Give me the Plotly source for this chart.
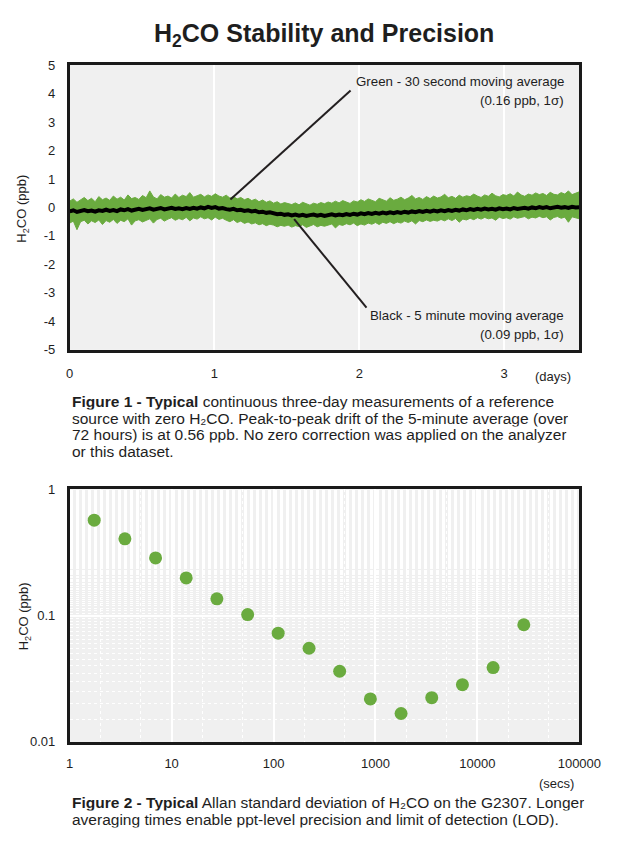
import numpy as np
import plotly.graph_objects as go

W, H = 633, 859

# ---------------- Data: Figure 1 (3-day zero measurement) ----------------
DAYS_SPAN = 3.52
black_5min = [
    -0.14, -0.10, -0.16, -0.12, -0.09, -0.13, -0.11, -0.15, -0.10, -0.12,
    -0.08, -0.12, -0.09, -0.13, -0.07, -0.10, -0.06, -0.11, -0.08, -0.05,
    -0.09, -0.06, -0.03, -0.08, -0.05, -0.02, -0.07, -0.04, -0.01, -0.05,
    -0.03, -0.06, -0.02, -0.05, -0.01, -0.04, 0.00, -0.03, 0.02, -0.02,
    0.01, -0.04, -0.02, -0.06, -0.08, -0.05, -0.10, -0.08, -0.12, -0.10,
    -0.14, -0.12, -0.17, -0.15, -0.19, -0.17, -0.21, -0.24, -0.22, -0.26,
    -0.24, -0.28, -0.25, -0.29, -0.26, -0.30, -0.27, -0.25, -0.29, -0.26,
    -0.30, -0.27, -0.24, -0.28, -0.25, -0.27, -0.23, -0.26, -0.22, -0.25,
    -0.21, -0.24, -0.20, -0.23, -0.19, -0.22, -0.18, -0.21, -0.17, -0.20,
    -0.16, -0.19, -0.15, -0.18, -0.14, -0.17, -0.13, -0.16, -0.12, -0.15,
    -0.11, -0.14, -0.10, -0.13, -0.09, -0.12, -0.08, -0.11, -0.07, -0.10,
    -0.06, -0.09, -0.05, -0.08, -0.04, -0.07, -0.05, -0.08, -0.03, -0.06,
    -0.04, -0.07, -0.02, -0.05, -0.03, -0.01, -0.04, 0.00, -0.03, 0.01,
    -0.02, 0.01, -0.03, 0.00, 0.02, -0.01, 0.01, -0.02, 0.02, 0.00, 0.01,
]
green_30s_upper = [
    0.22, 0.30, 0.18, 0.28, 0.35, 0.24, 0.32, 0.20, 0.38, 0.27,
    0.33, 0.25, 0.40, 0.29, 0.36, 0.26, 0.44, 0.31, 0.35, 0.28,
    0.42, 0.34, 0.58, 0.37, 0.30, 0.45, 0.36, 0.40, 0.33, 0.47,
    0.35, 0.43, 0.38, 0.52, 0.36, 0.41, 0.46, 0.37, 0.44, 0.39,
    0.48, 0.40, 0.36, 0.43, 0.33, 0.38, 0.30, 0.35, 0.27, 0.32,
    0.24, 0.29, 0.20, 0.26, 0.18, 0.23, 0.15, 0.20, 0.12, 0.17,
    0.14, 0.10, 0.16, 0.09, 0.18, 0.12, 0.08, 0.15, 0.11, 0.17,
    0.13, 0.19, 0.15, 0.22, 0.16, 0.24, 0.18, 0.14, 0.23, 0.19,
    0.27, 0.21, 0.30, 0.24, 0.20, 0.32, 0.26, 0.22, 0.34, 0.25,
    0.29, 0.36, 0.27, 0.33, 0.42, 0.30, 0.35, 0.28, 0.38, 0.31,
    0.40, 0.33, 0.37, 0.46, 0.34, 0.39, 0.32, 0.43, 0.36, 0.41,
    0.38, 0.47, 0.40, 0.35, 0.44, 0.39, 0.50, 0.41, 0.37, 0.45,
    0.42, 0.48, 0.40, 0.54, 0.44, 0.39, 0.47, 0.43, 0.51, 0.45,
    0.49, 0.42, 0.53, 0.46, 0.44, 0.52, 0.47, 0.58, 0.45, 0.50, 0.55,
]
green_30s_lower = [
    -0.55, -0.48, -0.78, -0.50, -0.45, -0.58, -0.47, -0.53, -0.44, -0.60,
    -0.46, -0.52, -0.42, -0.56, -0.45, -0.50, -0.40, -0.62, -0.47, -0.43,
    -0.51, -0.44, -0.40, -0.55, -0.42, -0.38, -0.48, -0.41, -0.36, -0.45,
    -0.39, -0.43, -0.35, -0.47, -0.37, -0.41, -0.33, -0.40, -0.36, -0.44,
    -0.34, -0.42, -0.38, -0.45, -0.50, -0.43, -0.53, -0.48, -0.56, -0.51,
    -0.58, -0.54, -0.61, -0.57, -0.64, -0.59, -0.62, -0.68, -0.63, -0.66,
    -0.62, -0.69, -0.64, -0.67, -0.61, -0.70, -0.65, -0.60, -0.68, -0.63,
    -0.66, -0.61, -0.58, -0.72, -0.60, -0.63, -0.57, -0.61, -0.55, -0.64,
    -0.58, -0.62, -0.55, -0.59, -0.53, -0.60, -0.52, -0.56, -0.50, -0.57,
    -0.51, -0.55, -0.48, -0.53, -0.47, -0.58, -0.46, -0.50, -0.44, -0.49,
    -0.45, -0.48, -0.42, -0.47, -0.40, -0.46, -0.39, -0.52, -0.41, -0.44,
    -0.38, -0.43, -0.36, -0.41, -0.35, -0.40, -0.37, -0.45, -0.34, -0.39,
    -0.36, -0.41, -0.33, -0.38, -0.35, -0.32, -0.40, -0.34, -0.37, -0.31,
    -0.36, -0.33, -0.44, -0.35, -0.32, -0.38, -0.34, -0.52, -0.33, -0.36, -0.40,
]
time_days = np.linspace(0, DAYS_SPAN, len(black_5min))
day_ticks = [0, 1, 2, 3]
ppb_ticks = [5, 4, 3, 2, 1, 0, -1, -2, -3, -4, -5]

# ---------------- Data: Figure 2 (Allan deviation) ----------------
tau_secs = [1.74, 3.48, 6.96, 13.9, 27.8, 55.7, 111, 223, 445, 891,
            1782, 3564, 7127, 14254, 28508]
allan_ppb = [0.571, 0.406, 0.287, 0.199, 0.136, 0.102, 0.0727, 0.0552,
             0.0363, 0.0219, 0.0168, 0.0224, 0.0284, 0.0388, 0.0848]
tau_ticks = [1, 10, 100, 1000, 10000, 100000]
allan_ticks = [0.01, 0.1, 1]

GREEN = "#6aab3f"
FONT = "Liberation Sans, Arial, Helvetica, sans-serif"
TXT = "#1e1e1e"


def xp(px):
    return px / W


def yp(py):
    return 1 - py / H


fig = go.Figure()

# Figure 1 traces
fig.add_trace(go.Scatter(x=time_days, y=green_30s_upper, mode="lines",
                         line=dict(color=GREEN, width=1), hoverinfo="skip",
                         showlegend=False, xaxis="x", yaxis="y"))
fig.add_trace(go.Scatter(x=time_days, y=green_30s_lower, mode="lines",
                         line=dict(color=GREEN, width=1), fill="tonexty",
                         fillcolor=GREEN, showlegend=False,
                         xaxis="x", yaxis="y"))
fig.add_trace(go.Scatter(x=time_days, y=black_5min, mode="lines",
                         line=dict(color="#000000", width=4),
                         showlegend=False, xaxis="x", yaxis="y"))

# Figure 2 traces
fig.add_trace(go.Scatter(x=tau_secs, y=allan_ppb, mode="markers",
                         marker=dict(color=GREEN, size=13),
                         showlegend=False, xaxis="x2", yaxis="y2"))

top_dom = [yp(349), yp(59)]
bot_dom = [yp(748), yp(491)]
x_dom = [xp(68.5), xp(600)]

axis_common = dict(showline=True, linecolor="#1a1a1a", linewidth=2.5,
                   mirror=True, zeroline=False,
                   tickfont=dict(family=FONT, size=13, color=TXT),
                   ticks="outside", tickcolor="rgba(0,0,0,0)")

fig.update_layout(
    width=W, height=H,
    margin=dict(l=0, r=0, t=0, b=0),
    paper_bgcolor="white", plot_bgcolor="#f0f0f0",
    font=dict(family=FONT, color=TXT),
    xaxis=dict(domain=x_dom, range=[0, DAYS_SPAN], anchor="y",
               tickvals=day_ticks, ticktext=[str(v) for v in day_ticks],
               showgrid=True, gridcolor="white", gridwidth=2,
               ticklen=10, **axis_common),
    yaxis=dict(domain=top_dom, range=[-5, 5], anchor="x",
               tickvals=ppb_ticks, ticktext=[str(v) for v in ppb_ticks],
               showgrid=False, ticklen=9, **axis_common),
    xaxis2=dict(domain=x_dom, type="log", range=[0, 5], anchor="y2",
                tickvals=tau_ticks, ticktext=[str(v) for v in tau_ticks],
                showgrid=True, gridcolor="white", gridwidth=2,
                minor=dict(showgrid=True, gridcolor="white", griddash="dot",
                           gridwidth=1, ticks=""),
                ticklen=8, **axis_common),
    yaxis2=dict(domain=bot_dom, type="log", range=[-2, 0], anchor="x2",
                tickvals=allan_ticks, ticktext=["0.01", "0.1", "1"],
                showgrid=True, gridcolor="white", gridwidth=2,
                minor=dict(showgrid=True, gridcolor="white", griddash="dot",
                           gridwidth=1, ticks=""),
                ticklen=9, **axis_common),
)

# Callout leader lines (figure 1)
fig.add_shape(type="line", xref="x", yref="y", x0=1.11, y0=0.28, x1=1.94, y1=4.1,
              line=dict(color="#231f20", width=2))
fig.add_shape(type="line", xref="x", yref="y", x0=1.55, y0=-0.41, x1=2.05, y1=-3.52,
              line=dict(color="#231f20", width=2))

ann = []


def text(x, y, s, size=13, xanchor="left", yanchor="middle", angle=0,
         color=TXT, height=None):
    a = dict(x=xp(x), y=yp(y), xref="paper", yref="paper", text=s,
             showarrow=False, xanchor=xanchor, yanchor=yanchor,
             textangle=angle,
             font=dict(family=FONT, size=size, color=color))
    if height is not None:
        a["height"] = height
    ann.append(a)


text(334, 28, "<b>H<sub>2</sub>CO Stability and Precision</b>", size=25,
     xanchor="center")
text(586, 76, "Green - 30 second moving average", size=13.3, xanchor="right")
text(586, 95, "(0.16 ppb, 1σ)", size=13.3, xanchor="right")
text(586, 314, "Black - 5 minute moving average", size=13.3, xanchor="right")
text(586, 333, "(0.09 ppb, 1σ)", size=13.3, xanchor="right")
text(19, 205, "H<sub>2</sub>CO (ppb)", size=13, xanchor="center", angle=-90)
text(21, 620, "H<sub>2</sub>CO (ppb)", size=13, xanchor="center", angle=-90)
text(573, 376, "(days)", size=13, xanchor="center")
text(576, 790, "(secs)", size=13, xanchor="center")

CAP_SIZE = 15.5
CAP_STEP = 16.8
cap1 = [
    "<b>Figure 1 - Typical</b> continuous three-day measurements of a reference",
    "source with zero H₂CO. Peak-to-peak drift of the 5-minute average (over",
    "72 hours) is at 0.56 ppb. No zero correction was applied on the analyzer",
    "or this dataset.",
]
for i, line in enumerate(cap1):
    text(69, 402 + CAP_STEP * i, line, size=CAP_SIZE, height=16.5)

cap2 = [
    "<b>Figure 2 - Typical</b> Allan standard deviation of H₂CO on the G2307. Longer",
    "averaging times enable ppt-level precision and limit of detection (LOD).",
]
for i, line in enumerate(cap2):
    text(69, 810 + CAP_STEP * i, line, size=CAP_SIZE, height=16.5)

fig.update_layout(annotations=ann)
fig.write_html("out.html", config={"displayModeBar": False},
               post_script="document.body.style.margin='0px';"
                           "document.body.style.overflow='hidden';")
